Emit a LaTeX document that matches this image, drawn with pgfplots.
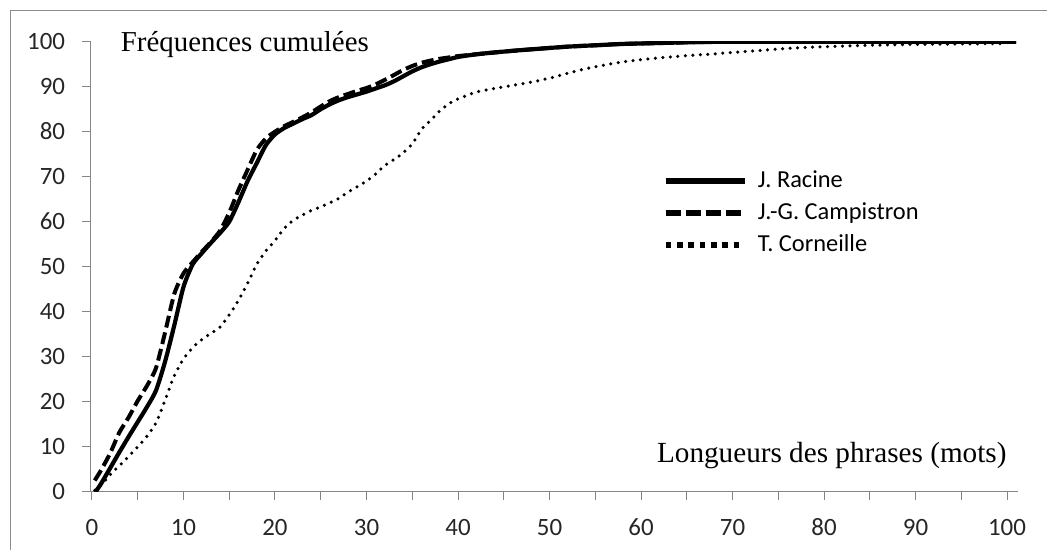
\documentclass[border=0pt]{standalone}
\usepackage{fontspec}
\setmainfont{Carlito}
\newfontfamily\tnr{Liberation Serif}
\usepackage{pgfplots}
\pgfplotsset{compat=1.18}
\definecolor{axisgray}{HTML}{868686}
\definecolor{framegray}{HTML}{8C8C8C}

\pgfplotstableread{
x y
0.4 0
1 1.8
2 5.3
3 8.8
4 12.2
5 15.5
6 18.8
7 22.5
8 29
9 37
10 45.5
11 50.5
12 53
13 55.3
14 57.5
15 60
16 64.3
17 69
18 73
19 77
20 79.4
21 80.8
22 81.8
23 82.8
24 83.7
25 85
26 86.1
27 87
28 87.7
29 88.3
30 88.9
31 89.6
32 90.3
33 91.2
34 92.3
35 93.4
36 94.3
37 95
38 95.6
39 96.1
40 96.6
42 97.2
45 97.8
48 98.3
52 98.9
55 99.2
58 99.5
62 99.7
66 99.9
72 100
101 100
}\racine

\pgfplotstableread{
x y
0.3 2.5
1 4.8
2 8.6
3 13.2
4 16.5
5 20.2
6 23.5
7 27.5
8 35.5
9 44
10 48.5
11 51
12 53.3
13 55.5
14 58
15 62
16 67
17 71.5
18 75.9
19 78.5
20 80
21 81.2
22 82.2
23 83.2
24 84.3
25 85.6
26 86.8
27 87.7
28 88.4
29 89.1
30 89.7
31 90.5
32 91.5
33 92.6
34 93.7
35 94.6
36 95.3
37 95.8
38 96.2
39 96.5
40 96.8
42 97.2
45 97.8
48 98.3
52 98.9
55 99.2
58 99.5
62 99.7
66 99.9
72 100
101 100
}\campistron

\pgfplotstableread{
x y
0.3 0.3
1 1.5
2 3.8
3 5.8
4 7.8
5 10
6 12.3
7 15.3
8 20.4
9 25.8
10 29.5
11 32
12 33.8
13 35.2
14 36.6
15 39.3
16 42.5
17 46.3
18 50.5
19 53.5
20 55.8
21 58.5
22 60.3
23 61.5
24 62.5
25 63.3
26 64.2
27 65.2
28 66.6
29 67.8
30 69
31 70.6
32 72.5
33 73.8
34 75.3
35 77.3
36 80.5
37 82.5
38 84.6
39 86.2
40 87.3
42 88.8
44 89.6
46 90.3
48 91
50 91.9
52 93
54 94
56 94.8
58 95.5
60 96
62 96.4
65 96.9
68 97.3
72 97.9
76 98.5
80 98.9
85 99.2
90 99.4
95 99.5
100 99.6
}\corneille

\begin{document}
\begin{tikzpicture}[x=1bp,y=1bp]
\useasboundingbox (0,0) rectangle (1047,550);
\draw[framegray, line width=1bp] (10,0) -- (10,539) -- (1047,539);
\begin{axis}[
  at={(90.7bp,58.3bp)}, anchor=south west,
  scale only axis, width=927.3bp, height=450bp,
  xmin=-0.14, xmax=101.2, ymin=0, ymax=100,
  axis lines=left,
  axis line style={-, color=axisgray, line width=1bp},
  xtick={0,10,...,100}, minor xtick={5,15,...,95},
  ytick={0,10,...,100},
  tick align=outside,
  major tick length=8.5bp, minor tick length=8.5bp,
  every tick/.style={color=axisgray, line width=1bp},
  ticklabel style={font=\fontsize{25}{25}\selectfont, text=black!85},
  /pgf/number format/assume math mode=true,
  yticklabel style={anchor=east, inner sep=0pt, xshift=-17bp, text height=16bp, text depth=0bp},
  xticklabel style={anchor=north, inner sep=0pt, yshift=-19bp, text height=16bp, text depth=0bp},
  legend style={draw=none, fill=none, inner sep=0pt, at={(0.617,0.715)}, anchor=north west,
    font=\fontsize{24.5}{24.5}\selectfont,
    nodes={inner sep=0pt, text height=17bp, text depth=5bp},
    row sep=10bp},
  legend cell align=left,
  line join=round,
]
\addplot[black, line width=4.2bp, smooth, tension=0.4,
  legend image code/.code={\draw[black, line width=5.5bp] (0bp,0bp) -- (79bp,0bp); \path[draw=none] (0bp,0bp) -- (92bp,0bp);}]
  table[x=x,y=y]{\racine};
\addlegendentry{J. Racine}
\addplot[black, line width=4bp, dash pattern=on 12bp off 5bp, smooth, tension=0.4,
  legend image code/.code={\draw[black, line width=5.5bp, dash pattern=on 15bp off 5bp] (0bp,0bp) -- (79bp,0bp); \path[draw=none] (0bp,0bp) -- (92bp,0bp);}]
  table[x=x,y=y]{\campistron};
\addlegendentry{J.-G. Campistron}
\addplot[black, line width=3.5bp, line cap=round, dash pattern=on 0bp off 7.5bp, smooth, tension=0.4,
  legend image code/.code={\draw[black, line width=5.5bp, line cap=butt, dash pattern=on 5.5bp off 5.8bp] (0bp,0bp) -- (79bp,0bp); \path[draw=none] (0bp,0bp) -- (92bp,0bp);}]
  table[x=x,y=y]{\corneille};
\addlegendentry{T. Corneille}
\end{axis}
\node[anchor=base west, inner sep=0pt, font=\tnr\fontsize{29}{29}\selectfont] at (120.7,498.5) {Fréquences cumulées};
\node[anchor=base east, inner sep=0pt, font=\tnr\fontsize{29.3}{29.3}\selectfont] at (1006.7,87.5) {Longueurs des phrases (mots)};
\end{tikzpicture}
\end{document}
